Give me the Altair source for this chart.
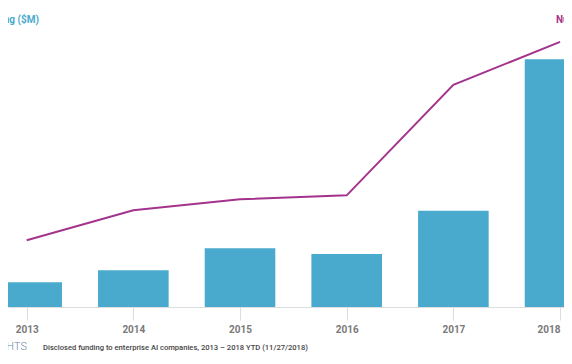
import altair as alt
import pandas as pd

years = [2013, 2014, 2015, 2016, 2017, 2018]
funding = [413, 614, 982, 886, 1610, 4142]   # $M
deals = [67, 97, 108, 112, 223, 266]

df = pd.DataFrame({"year": years, "funding": funding, "deals": deals})

BLUE = "#4aaacd"
PURPLE = "#a3338c"

xscale = alt.Scale(domain=[2012.825, 2018.037], nice=False, zero=False, padding=0)
xaxis = alt.Axis(values=years, format="d", title=None, grid=False,
                 labelColor="#7a7a7a", labelFontSize=10, labelFontWeight="bold",
                 labelFont="Roboto", tickColor="#dddddd", tickSize=13,
                 domainColor="#dddddd", labelPadding=4, labelFlush=6)

bars = alt.Chart(df).mark_bar(color=BLUE, size=70.6).encode(
    x=alt.X("year:Q", scale=xscale, axis=xaxis),
    y=alt.Y("funding:Q", scale=alt.Scale(domain=[0, 5000], nice=False), axis=None),
)

line = alt.Chart(df).mark_line(color=PURPLE, strokeWidth=2).encode(
    x=alt.X("year:Q", scale=xscale, axis=xaxis),
    y=alt.Y("deals:Q", scale=alt.Scale(domain=[0, 300], nice=False), axis=None),
)

def label(txt, x, y, color, size, align, font="Roboto", weight="normal"):
    return alt.Chart(pd.DataFrame({"t": [txt]})).mark_text(
        color=color, fontSize=size, align=align, baseline="middle",
        font=font, fontWeight=weight,
    ).encode(x=alt.value(x), y=alt.value(y), text="t:N")

left_title = label("Funding ($M)", 31, 12, BLUE, 10, "right", weight="bold")
right_title = label("Number of deals", 548, 12, PURPLE, 10, "left", weight="bold")
logo = label("CB INSIGHTS", 19, 339, "#6f8ba6", 11, "right", weight=300)
note = label("Disclosed funding to enterprise AI companies, 2013 \u2013 2018 YTD (11/27/2018)",
             35, 340, "#444444", 7.6, "left", font="Roboto", weight=500)

chart = alt.layer(bars, line, left_title, right_title, logo, note).resolve_scale(
    y="independent"
).properties(
    width=556, height=299,
    autosize=alt.AutoSizeParams(type="none"),
    padding={"left": 0, "top": 0, "right": 0, "bottom": 49},
).configure_view(stroke=None)

chart.save("out.html", embed_options={"renderer": "svg", "actions": False})
